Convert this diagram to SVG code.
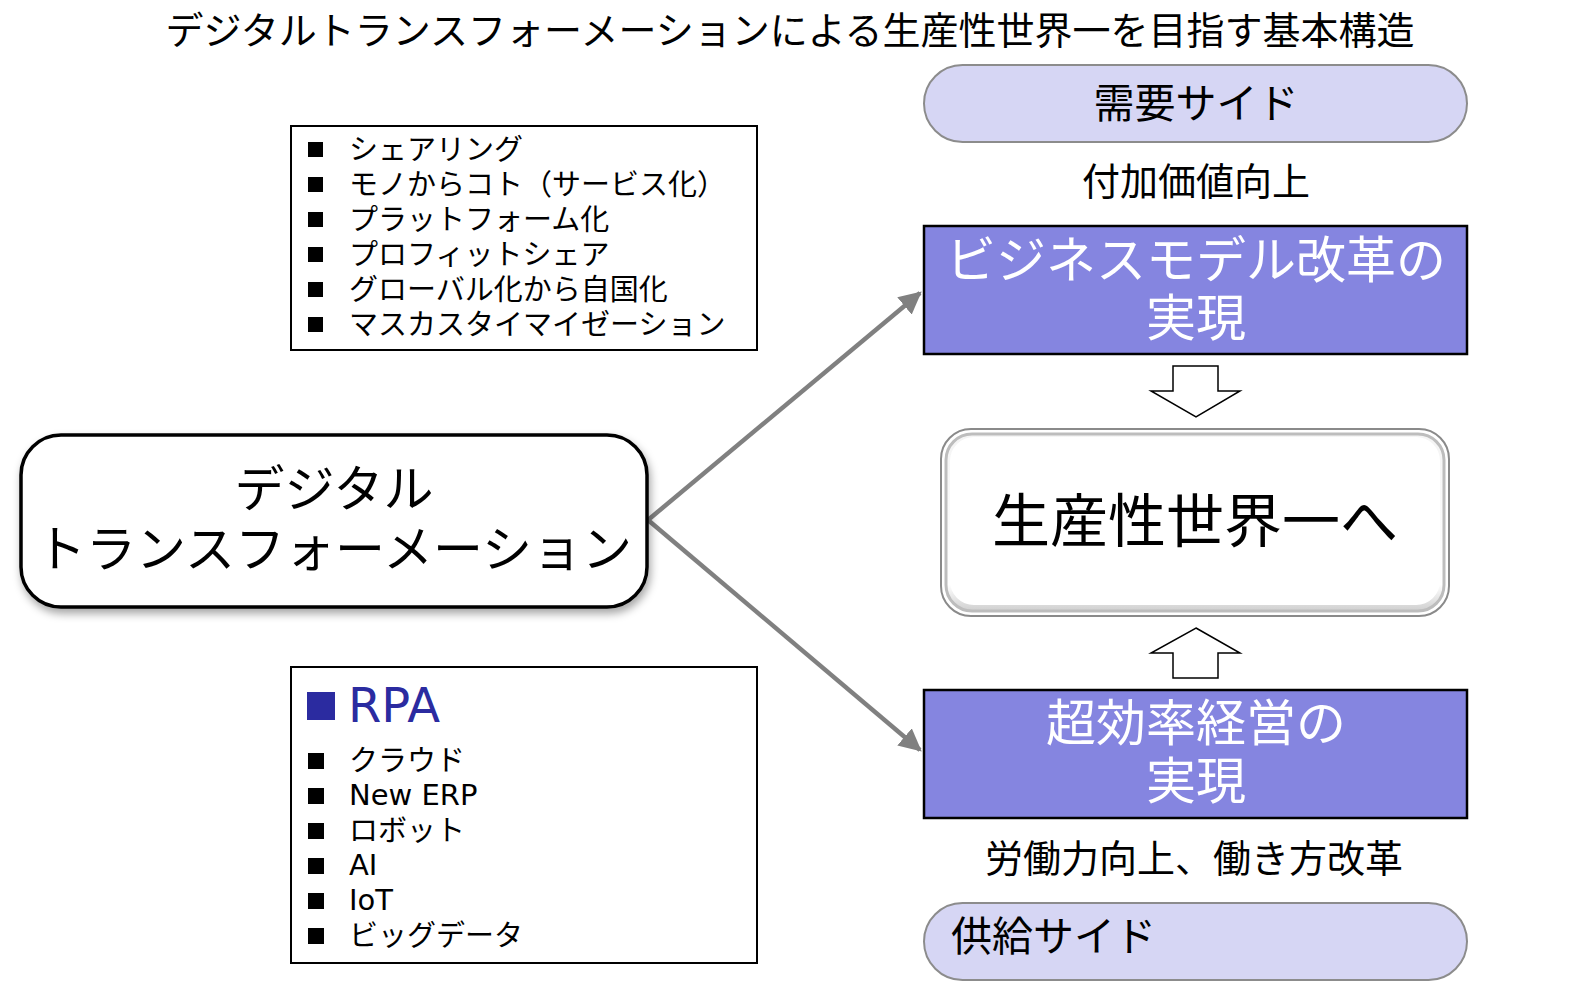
<svg xmlns="http://www.w3.org/2000/svg" width="1578" height="991" viewBox="0 0 1578 991">
<defs>
<style>
text{font-family:"Noto Sans CJK JP","Noto Sans",sans-serif;fill:#000}
.lat{font-family:"DejaVu Sans","Noto Sans CJK JP",sans-serif}
.b{font-size:29px}
.w{fill:#fff;font-size:50px}
.pill{fill:#D6D6F4;stroke:#8C8C8C;stroke-width:2}
.blue{fill:#8585E0;stroke:#000;stroke-width:2.5}
.box{fill:#fff;stroke:#000;stroke-width:2}
.blk{fill:#fff;stroke:#000;stroke-width:1.5}
.conn{stroke:#808080;stroke-width:4.5;fill:none}
</style>
<marker id="ah" viewBox="0 0 10 10" refX="9" refY="5" markerWidth="5" markerHeight="5" markerUnits="strokeWidth" orient="auto">
<path d="M0,0 L10,5 L0,10 z" fill="#808080"/>
</marker>
<filter id="sh" x="-10%" y="-10%" width="120%" height="130%">
<feDropShadow dx="2" dy="5" stdDeviation="4" flood-color="#000" flood-opacity="0.35"/>
</filter>
<linearGradient id="bev" x1="0" y1="0" x2="0" y2="1">
<stop offset="0" stop-color="#f4f4f4"/>
<stop offset="0.85" stop-color="#ffffff"/>
<stop offset="1" stop-color="#cfcfcf"/>
</linearGradient>
</defs>
<rect width="1578" height="991" fill="#fff"/>
<text x="790" y="44" font-size="38" text-anchor="middle">デジタルトランスフォーメーションによる生産性世界一を目指す基本構造</text>

<g id="connectors">
<line class="conn" x1="648" y1="520" x2="920" y2="293" marker-end="url(#ah)"/>
<line class="conn" x1="648" y1="520" x2="920" y2="750" marker-end="url(#ah)"/>
</g>

<g id="list-top">
<rect class="box" x="291" y="126" width="466" height="224"/>
<g fill="#000">
<rect x="308" y="142" width="15" height="15"/>
<rect x="308" y="177" width="15" height="15"/>
<rect x="308" y="212" width="15" height="15"/>
<rect x="308" y="247" width="15" height="15"/>
<rect x="308" y="282" width="15" height="15"/>
<rect x="308" y="317" width="15" height="15"/>
</g>
<text class="b" x="349" y="160">シェアリング</text>
<text class="b" x="349" y="195">モノからコト（サービス化）</text>
<text class="b" x="349" y="230">プラットフォーム化</text>
<text class="b" x="349" y="265">プロフィットシェア</text>
<text class="b" x="349" y="300">グローバル化から自国化</text>
<text class="b" x="349" y="335">マスカスタイマイゼーション</text>
</g>

<g id="list-bottom">
<rect class="box" x="291" y="667" width="466" height="296"/>
<rect x="307" y="692" width="28" height="28" fill="#2B2BA0"/>
<text class="lat" x="348" y="722" font-size="48" style="fill:#2B2BA0">RPA</text>
<g fill="#000">
<rect x="308" y="753" width="16" height="16"/>
<rect x="308" y="788" width="16" height="16"/>
<rect x="308" y="823" width="16" height="16"/>
<rect x="308" y="858" width="16" height="16"/>
<rect x="308" y="893" width="16" height="16"/>
<rect x="308" y="928" width="16" height="16"/>
</g>
<text class="b" x="349" y="771">クラウド</text>
<text class="b lat" x="349" y="805">New ERP</text>
<text class="b" x="349" y="841">ロボット</text>
<text class="b lat" x="349" y="875">AI</text>
<text class="b lat" x="349" y="910">IoT</text>
<text class="b" x="349" y="946">ビッグデータ</text>
</g>

<g id="dx">
<rect x="21" y="435" width="626" height="172" rx="40" fill="#fff" stroke="#000" stroke-width="3.5" filter="url(#sh)"/>
<text font-size="50" text-anchor="middle"><tspan x="334" y="507">デジタル</tspan><tspan x="334" y="567">トランスフォーメーション</tspan></text>
</g>

<g id="demand">
<rect class="pill" x="924" y="65" width="543" height="77" rx="38.5"/>
<text x="1196" y="118" font-size="41" text-anchor="middle">需要サイド</text>
</g>
<text x="1196" y="195" font-size="38" text-anchor="middle">付加価値向上</text>

<g id="bizmodel">
<rect class="blue" x="924" y="226" width="543" height="128"/>
<text class="w" text-anchor="middle"><tspan x="1196" y="278">ビジネスモデル改革の</tspan><tspan x="1196" y="336">実現</tspan></text>
</g>

<g id="arrow-down">
<path class="blk" d="M1173,366 H1218 V391 H1240 L1196,417 L1151,391 H1173 Z"/>
</g>

<g id="goal">
<rect x="941" y="429" width="508" height="187" rx="30" fill="#fff" stroke="#8a8a8a" stroke-width="2"/>
<rect x="946" y="434" width="498" height="177" rx="26" fill="url(#bev)" stroke="#bdbdbd" stroke-width="3"/>
<rect x="950" y="437" width="490" height="168" rx="24" fill="#fff" stroke="none"/>
<text x="1195" y="542" font-size="58" text-anchor="middle">生産性世界一へ</text>
</g>

<g id="arrow-up">
<path class="blk" d="M1196,628 L1240,653 H1218 V678 H1173 V653 H1151 Z"/>
</g>

<g id="efficiency">
<rect class="blue" x="924" y="690" width="543" height="128"/>
<text class="w" text-anchor="middle"><tspan x="1196" y="741">超効率経営の</tspan><tspan x="1196" y="799">実現</tspan></text>
</g>
<text x="1194" y="872" font-size="38" text-anchor="middle">労働力向上、働き方改革</text>

<g id="supply">
<rect class="pill" x="924" y="903" width="543" height="77" rx="38.5"/>
<text x="951" y="951" font-size="41">供給サイド</text>
</g>
</svg>
